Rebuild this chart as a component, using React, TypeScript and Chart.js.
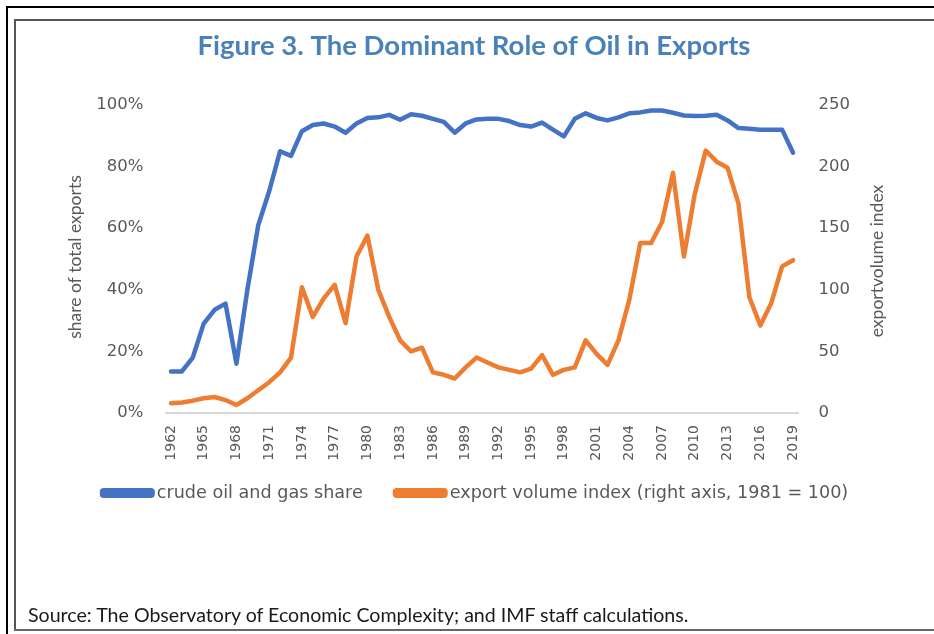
import React, { useEffect, useRef } from "react";
import { Chart, registerables } from "chart.js";

Chart.register(...registerables);

const years = [
  "1962", "1963", "1964", "1965", "1966", "1967", "1968", "1969", "1970", "1971",
  "1972", "1973", "1974", "1975", "1976", "1977", "1978", "1979", "1980", "1981",
  "1982", "1983", "1984", "1985", "1986", "1987", "1988", "1989", "1990", "1991",
  "1992", "1993", "1994", "1995", "1996", "1997", "1998", "1999", "2000", "2001",
  "2002", "2003", "2004", "2005", "2006", "2007", "2008", "2009", "2010", "2011",
  "2012", "2013", "2014", "2015", "2016", "2017", "2018", "2019",
];

const shownYearLabels = [
  "1962", "1965", "1968", "1971", "1974", "1977", "1980", "1983", "1986", "1989",
  "1992", "1995", "1998", "2001", "2004", "2007", "2010", "2013", "2016", "2019",
];

// crude oil and gas share of total exports (%)
const oilShare = [
  13.5, 13.5, 18, 29, 33.5, 35.5, 16, 40, 61, 72,
  85, 83.5, 91.5, 93.5, 94, 93, 91, 94, 95.8, 96,
  96.8, 95.2, 97, 96.5, 95.5, 94.5, 91, 94, 95.3, 95.5,
  95.5, 94.8, 93.5, 93, 94.3, 92, 89.8, 95.5, 97.3, 95.8,
  95, 96, 97.3, 97.6, 98.2, 98.2, 97.5, 96.6, 96.4, 96.5,
  96.8, 95, 92.5, 92.3, 92, 92, 92, 84.5,
];

// export volume index (1981 = 100)
const exportIndex = [
  8, 8.5, 10, 12, 13, 10.5, 6.5, 12, 18.5, 25,
  33, 45, 102, 78, 93, 104, 73, 127, 144, 100,
  78, 59, 50, 53, 33, 31, 28, 37, 45, 41,
  37, 35, 33, 36, 47, 31, 35, 37, 59, 48,
  39, 59, 92, 138, 138, 155, 195, 127, 178, 213,
  204, 199, 170, 94, 71, 89, 119, 124,
];

const leftTicks = [0, 20, 40, 60, 80, 100];
const rightTicks = [0, 50, 100, 150, 200, 250];

const titleText = "Figure 3. The Dominant Role of Oil in Exports";
const leftAxisTitle = "share of total exports";
const rightAxisTitle = "exportvolume index";
const seriesNames = ["crude oil and gas share", "export volume index (right axis, 1981 = 100)"];
const sourceText = "Source: The Observatory of Economic Complexity; and IMF staff calculations.";

const BLUE = "#4472c4";
const ORANGE = "#ed7d31";
const GRAY_TEXT = "#595959";

const axisTitlePlugin = {
  id: "axisTitles",
  afterDraw(chart: any) {
    const { ctx, chartArea } = chart;
    const cy = (chartArea.top + chartArea.bottom) / 2;
    ctx.save();
    ctx.font = "17.5px Lato, 'DejaVu Sans', sans-serif";
    ctx.fillStyle = GRAY_TEXT;
    ctx.textAlign = "center";
    ctx.textBaseline = "middle";
    ctx.save();
    ctx.translate(chartArea.left - 90, cy - 2);
    ctx.rotate(-Math.PI / 2);
    ctx.fillText(leftAxisTitle, 0, 0);
    ctx.restore();
    ctx.save();
    ctx.translate(chartArea.right + 79, cy + 2);
    ctx.rotate(-Math.PI / 2);
    ctx.fillText(rightAxisTitle, 0, 0);
    ctx.restore();
    ctx.restore();
  },
};

// Legend drawn below the axis: long colour bar right next to its text
const legendPlugin = {
  id: "barLegend",
  afterDraw(chart: any) {
    const { ctx, chartArea } = chart;
    ctx.save();
    ctx.font = "17.6px 'DejaVu Sans', sans-serif";
    ctx.textBaseline = "middle";
    ctx.textAlign = "left";
    const boxW = 55;
    const boxH = 10;
    const gap = 2;
    const itemGap = 30;
    const items = chart.data.datasets.map((ds: any) => ({
      text: ds.label as string,
      color: ds.borderColor as string,
      w: ctx.measureText(ds.label).width,
    }));
    const total =
      items.reduce((s: number, it: any) => s + boxW + gap + it.w, 0) + itemGap * (items.length - 1);
    const centerX = (chartArea.left + chartArea.right) / 2 - 8;
    const y = chartArea.bottom + 80;
    let x = centerX - total / 2;
    for (const it of items) {
      ctx.fillStyle = it.color;
      ctx.beginPath();
      (ctx as any).roundRect(x, y - boxH / 2, boxW, boxH, 4);
      ctx.fill();
      x += boxW + gap;
      ctx.fillStyle = GRAY_TEXT;
      ctx.fillText(it.text, x, y);
      x += it.w + itemGap;
    }
    ctx.restore();
  },
};

export default function App() {
  const canvasRef = useRef<HTMLCanvasElement | null>(null);

  useEffect(() => {
    if (!canvasRef.current) return;
    const chart = new Chart(canvasRef.current, {
      type: "line",
      data: {
        labels: years,
        datasets: [
          {
            label: seriesNames[0],
            data: oilShare,
            borderColor: BLUE,
            backgroundColor: BLUE,
            borderWidth: 4.5,
            pointRadius: 0,
            tension: 0,
            borderJoinStyle: "round",
            borderCapStyle: "round",
            yAxisID: "y",
          },
          {
            label: seriesNames[1],
            data: exportIndex,
            borderColor: ORANGE,
            backgroundColor: ORANGE,
            borderWidth: 4.5,
            pointRadius: 0,
            tension: 0,
            borderJoinStyle: "round",
            borderCapStyle: "round",
            yAxisID: "y1",
          },
        ],
      },
      options: {
        animation: false,
        responsive: false,
        maintainAspectRatio: false,
        layout: { padding: { left: 47, right: 33, top: 0, bottom: 161 } },
        plugins: {
          title: {
            display: true,
            text: titleText,
            color: "#4a81b9",
            font: { family: "Lato, sans-serif", size: 27.5, weight: "bold", lineHeight: 1.2 },
            padding: { top: 30, bottom: 42 },
          },
          legend: { display: false },
          tooltip: { enabled: false },
        },
        scales: {
          x: {
            type: "category",
            offset: true,
            grid: { display: false, drawTicks: false },
            border: { display: true, color: "#d9d9d9", width: 2 },
            ticks: {
              autoSkip: false,
              minRotation: 90,
              maxRotation: 90,
              padding: 12,
              color: GRAY_TEXT,
              font: { family: "'DejaVu Sans', sans-serif", size: 14 },
              callback: function (this: any, value: any) {
                const lbl = this.getLabelForValue(value);
                return shownYearLabels.includes(lbl) ? lbl : "";
              },
            },
            afterFit: (scale: any) => {
              scale.height = 60;
            },
          },
          y: {
            position: "left",
            min: 0,
            max: 100,
            grid: { display: false, drawTicks: false },
            border: { display: false },
            afterBuildTicks: (scale: any) => {
              scale.ticks = leftTicks.map((v) => ({ value: v }));
            },
            ticks: {
              padding: 22,
              color: GRAY_TEXT,
              font: { family: "'DejaVu Sans', sans-serif", size: 16.5 },
              callback: (v: any) => v + "%",
            },
            afterFit: (scale: any) => {
              scale.width = 118.5;
            },
          },
          y1: {
            position: "right",
            min: 0,
            max: 250,
            grid: { display: false, drawTicks: false },
            border: { display: false },
            afterBuildTicks: (scale: any) => {
              scale.ticks = rightTicks.map((v) => ({ value: v }));
            },
            ticks: {
              padding: 20,
              color: GRAY_TEXT,
              font: { family: "'DejaVu Sans', sans-serif", size: 16.5 },
            },
            afterFit: (scale: any) => {
              scale.width = 102.5;
            },
          },
        },
      },
      plugins: [axisTitlePlugin, legendPlugin],
    });
    return () => chart.destroy();
  }, []);

  return (
    <div
      style={{
        position: "fixed",
        left: 0,
        top: 0,
        width: 934,
        height: 634,
        background: "#ffffff",
        overflow: "hidden",
      }}
    >
      <div style={{ position: "absolute", left: 6, top: 6, width: 940, height: 2, background: "#000" }} />
      <div style={{ position: "absolute", left: 6, top: 6, width: 2, height: 640, background: "#000" }} />
      <div style={{ position: "absolute", left: 14, top: 19, width: 930, height: 2, background: "#555" }} />
      <div style={{ position: "absolute", left: 14, top: 19, width: 2, height: 612, background: "#555" }} />
      <div style={{ position: "absolute", left: 14, top: 629, width: 930, height: 2, background: "#666" }} />
      <canvas
        ref={canvasRef}
        width={934}
        height={634}
        style={{ position: "absolute", left: 0, top: 0, width: 934, height: 634 }}
      />
      <div
        style={{
          position: "absolute",
          left: 28,
          top: 602,
          fontFamily: "Lato, sans-serif",
          fontSize: 19.6,
          lineHeight: "26px",
          color: "#1a1a1a",
          whiteSpace: "nowrap",
        }}
      >
        {sourceText}
      </div>
    </div>
  );
}
